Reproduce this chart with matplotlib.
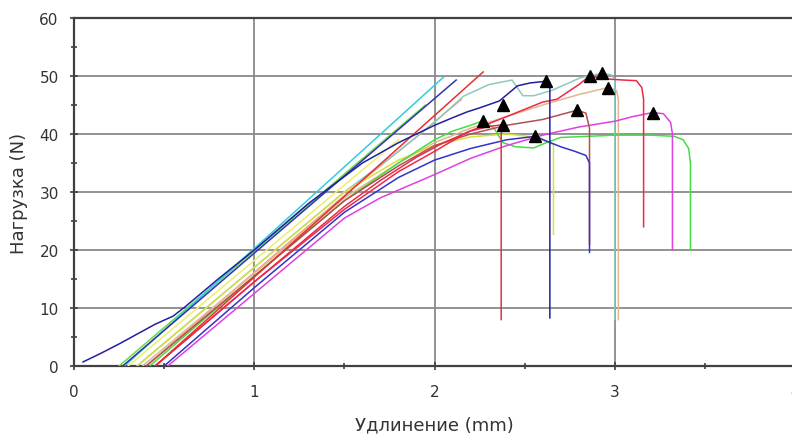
import matplotlib
matplotlib.use("Agg")
import matplotlib.pyplot as plt
from matplotlib.ticker import MultipleLocator

# ---- data (elongation mm, load N) ----
navy_toe_x = [0.05, 0.15, 0.25, 0.35, 0.45, 0.55, 0.62, 0.8, 1.0, 1.3, 1.6, 1.8, 2.0, 2.1, 2.18, 2.25, 2.36, 2.46, 2.53, 2.62, 2.64, 2.64]
navy_toe_y = [0.7, 2.2, 3.8, 5.5, 7.2, 8.6, 10.3, 15, 20, 28, 35, 38.5, 41.5, 42.8, 43.8, 44.5, 45.7, 48.3, 48.8, 49.1, 48.9, 8.3]

navy_x = [0.27, 2.12]
navy_y = [0.0, 49.3]
cyan_x = [0.28, 2.05]
cyan_y = [0.0, 49.8]
lime_x = [0.25, 1.95]
lime_y = [0.0, 45.0]
yellow_s_x = [0.3, 1.8]
yellow_s_y = [0.0, 39.0]
red_s_x = [0.45, 2.27]
red_s_y = [0.0, 50.7]
salmon_x = [0.4, 1.2, 1.6, 1.9, 2.15]
salmon_y = [0.0, 21.5, 32.0, 39.5, 46.0]

red_G_x = [0.45, 1.0, 1.5, 1.7, 1.9, 2.05, 2.2, 2.3, 2.38, 2.37, 2.37]
red_G_y = [0, 14.5, 27.5, 32, 36, 38.5, 40.5, 41.3, 41.6, 40, 8]

green_K_x = [0.42, 1.0, 1.5, 1.8, 2.0, 2.1, 2.2, 2.27, 2.33, 2.38, 2.45, 2.55, 2.62, 2.7, 2.85, 3.0, 3.2, 3.33, 3.38, 3.41, 3.42, 3.42]
green_K_y = [0, 15.5, 28.5, 35, 39, 40.5, 41.5, 42.3, 41, 38.5, 37.8, 37.6, 38.5, 39.4, 39.6, 39.8, 39.8, 39.6, 39, 37.5, 35, 20]

yellow_L_x = [0.35, 1.0, 1.5, 1.8, 2.0, 2.2, 2.4, 2.55, 2.66, 2.66]
yellow_L_y = [0, 17, 30, 35.5, 38, 39.5, 40, 39.5, 38.2, 22.7]

blue_I_x = [0.5, 1.0, 1.5, 1.8, 2.0, 2.2, 2.4, 2.56, 2.62, 2.7, 2.78, 2.84, 2.86, 2.86]
blue_I_y = [0, 13.5, 26.5, 32.5, 35.5, 37.5, 39, 39.6, 38.8, 37.8, 37, 36.3, 35, 19.6]

brown_H_x = [0.4, 1.0, 1.5, 1.8, 2.0, 2.2, 2.4, 2.6, 2.79, 2.84, 2.86, 2.86]
brown_H_y = [0, 15.5, 28.5, 34.5, 38, 40, 41.5, 42.5, 44.1, 43.6, 41, 21]

teal_C_x = [0.35, 1.0, 1.5, 1.8, 2.0, 2.16, 2.3, 2.43, 2.49, 2.55, 2.65, 2.81, 2.93, 2.98, 3.0, 3.0]
teal_C_y = [0, 17, 30, 37, 42, 46.5, 48.5, 49.3, 46.6, 46.6, 47.5, 49.7, 50.5, 50.2, 49.5, 8]

tan_D_x = [0.38, 1.0, 1.5, 1.8, 2.0, 2.2, 2.4, 2.6, 2.8, 2.96, 3.01, 3.02, 3.02]
tan_D_y = [0, 16, 29, 35, 38.5, 41, 43, 45, 46.8, 48, 47.5, 46, 8]

red_B_x = [0.45, 1.0, 1.5, 1.8, 2.0, 2.18, 2.4, 2.6, 2.68, 2.8, 2.86, 2.95, 3.05, 3.12, 3.15, 3.16, 3.16]
red_B_y = [0, 14.5, 27, 33.5, 37, 40.3, 43, 45.5, 46, 48.5, 50, 49.5, 49.3, 49.2, 48, 46, 24]

magenta_J_x = [0.52, 1.0, 1.5, 1.7, 2.0, 2.2, 2.4, 2.6, 2.8, 3.0, 3.1, 3.21, 3.27, 3.31, 3.32, 3.32]
magenta_J_y = [0, 12.5, 25.5, 29, 33, 35.8, 38, 39.8, 41.2, 42.2, 43, 43.7, 43.5, 42, 40, 20]

peak_x = [2.27, 2.38, 2.38, 2.56, 2.62, 2.79, 2.86, 2.93, 2.96, 3.21]
peak_y = [42.3, 45.0, 41.6, 39.6, 49.1, 44.1, 50.0, 50.5, 48.0, 43.7]

x_ticks = [0, 1, 2, 3, 4]
y_ticks = [0, 10, 20, 30, 40, 50, 60]

curves = [
    (yellow_s_x, yellow_s_y, "#eeee70"),
    (lime_x, lime_y, "#66dd44"),
    (salmon_x, salmon_y, "#f0a080"),
    (tan_D_x, tan_D_y, "#e0b890"),
    (teal_C_x, teal_C_y, "#90c8c0"),
    (yellow_L_x, yellow_L_y, "#d8e040"),
    (green_K_x, green_K_y, "#44dd44"),
    (magenta_J_x, magenta_J_y, "#e040e0"),
    (brown_H_x, brown_H_y, "#b05050"),
    (blue_I_x, blue_I_y, "#3333cc"),
    (red_G_x, red_G_y, "#e0304a"),
    (red_B_x, red_B_y, "#f02848"),
    (cyan_x, cyan_y, "#33ccdd"),
    (red_s_x, red_s_y, "#e83030"),
    (navy_x, navy_y, "#3333b0"),
    (navy_toe_x, navy_toe_y, "#2020a0"),
]

fig = plt.figure(figsize=(7.92, 4.39), dpi=100)
ax = fig.add_axes([74/792, 1-367/439, (795-74)/792, (367-19)/439])

for xs, ys, c in curves:
    ax.plot(xs, ys, color=c, lw=1.1, zorder=3)

ax.plot(peak_x, peak_y, linestyle="none", marker="^", color="black", ms=9, zorder=5)

ax.set_xlim(0, 4)
ax.set_ylim(0, 60)
ax.set_xticks(x_ticks)
ax.set_yticks(y_ticks)
ax.set_xticklabels([str(v) for v in x_ticks])
ax.set_yticklabels([str(v) for v in y_ticks])
ax.xaxis.set_minor_locator(MultipleLocator(0.5))
ax.yaxis.set_minor_locator(MultipleLocator(5))
ax.grid(True, which="major", color="#8a8a8a", lw=1.3, zorder=1)
ax.set_axisbelow(True)

for s in ["left", "bottom", "top"]:
    ax.spines[s].set_color("#404040")
    ax.spines[s].set_linewidth(1.6)
ax.spines["right"].set_visible(False)

ax.tick_params(which="major", direction="inout", length=6, width=1.2, color="#404040",
               labelsize=11, labelcolor="#333333", pad=8)
ax.tick_params(which="minor", direction="inout", length=5, width=1.2, color="#404040")
ax.tick_params(axis="x", which="major", pad=10)

ax.set_xlabel("Удлинение (mm)", fontsize=13, color="#333333", labelpad=12)
ax.set_ylabel("Нагрузка (N)", fontsize=13, color="#333333", labelpad=8)

fig.savefig("out.png", dpi=100)
